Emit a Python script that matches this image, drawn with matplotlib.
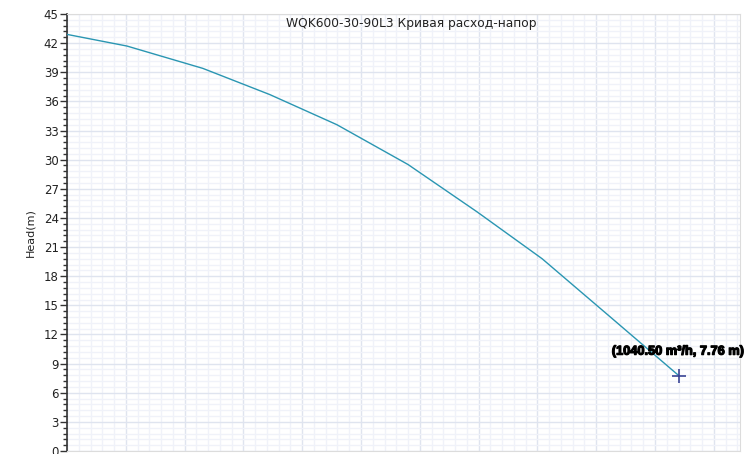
import numpy as np
import matplotlib
matplotlib.use('Agg')
import matplotlib.pyplot as plt
from matplotlib.ticker import MultipleLocator, NullFormatter
import matplotlib.patheffects as pe

# flow (m3/h) and head (m)
flow = [0, 102, 231, 345, 459, 580, 698, 808, 924, 1040.5]
head = [42.9, 41.7, 39.4, 36.7, 33.6, 29.5, 24.6, 19.8, 13.8, 7.76]
point_q = 1040.50
point_h = 7.76
title = 'WQK600-30-90L3 Кривая расход-напор'

fig = plt.figure(figsize=(7.54, 4.54), dpi=100)
ax = fig.add_axes([67 / 754, 3 / 454, 673 / 754, 437 / 454])

ax.plot(flow, head, color='#2a96b2', linewidth=1.0, zorder=3)
ax.plot([point_q], [point_h], marker='+', color='#3a4595', markersize=10,
        markeredgewidth=1.2, linestyle='none', zorder=4)
ax.annotate('(%.2f m³/h, %.2f m)' % (point_q, point_h), xy=(point_q, point_h),
            xytext=(-67, 24), textcoords='offset pixels', ha='left', va='center',
            fontsize=9.2, fontweight='bold', family=['Liberation Sans', 'DejaVu Sans'],
            color='black', zorder=5,
            path_effects=[pe.withStroke(linewidth=0.9, foreground='black')])

ax.set_xlim(0, point_q * 1.1)
ax.set_ylim(0, 45)

# grid
ax.xaxis.set_major_locator(MultipleLocator(100))
ax.xaxis.set_minor_locator(MultipleLocator(20))
ax.yaxis.set_major_locator(MultipleLocator(3))
ax.yaxis.set_minor_locator(MultipleLocator(0.6))
ax.grid(which='major', color='#dfe4ef', linewidth=1.0)
ax.grid(which='minor', color='#f0f2f9', linewidth=1.0)
ax.set_axisbelow(True)

ax.xaxis.set_major_formatter(NullFormatter())
ax.tick_params(axis='x', which='both', length=0)
ax.tick_params(axis='y', which='major', length=5, width=1, color='#333333',
               labelsize=8.5, labelcolor='#222222', pad=1)
ax.tick_params(axis='y', which='minor', length=3, width=1, color='#333333')

for s in ['top', 'right', 'bottom']:
    ax.spines[s].set_color('#dcdcdc')
ax.spines['left'].set_color('#333333')
ax.spines['left'].set_linewidth(1.2)

ax.set_ylabel('Head(m)', fontsize=8, color='#222222', labelpad=6)
ax.text(0.511, 0.992, title, transform=ax.transAxes, ha='center', va='top',
        fontsize=8.8, color='#222222')

plt.savefig('out.png', dpi=100)
